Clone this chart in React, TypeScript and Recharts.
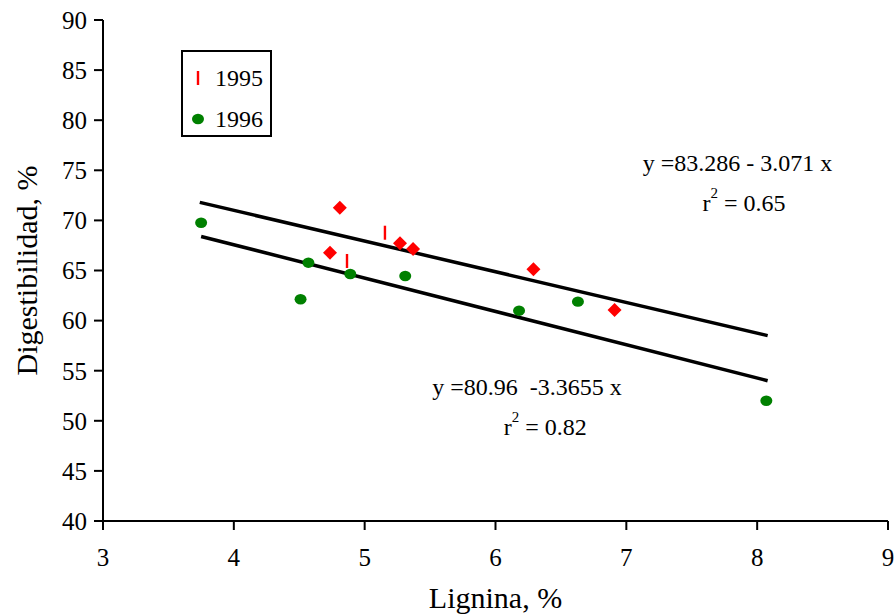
import React from 'react';
import {
  ComposedChart,
  Scatter,
  Line,
  XAxis,
  YAxis,
  ReferenceDot,
} from 'recharts';

// 1995 data (dash markers, shown in legend)
const data1995Dash = [
  { x: 4.865, y: 65.95 },
  { x: 5.155, y: 68.77 },
];
// 1995 data (diamond markers)
const data1995Diamond = [
  { x: 4.81, y: 71.27 },
  { x: 4.735, y: 66.78 },
  { x: 5.27, y: 67.71 },
  { x: 5.37, y: 67.15 },
  { x: 6.29, y: 65.12 },
  { x: 6.91, y: 61.06 },
];
// 1996 data
const data1996 = [
  { x: 3.75, y: 69.77 },
  { x: 4.57, y: 65.78 },
  { x: 4.51, y: 62.13 },
  { x: 4.89, y: 64.65 },
  { x: 5.31, y: 64.45 },
  { x: 6.18, y: 60.99 },
  { x: 6.63, y: 61.89 },
  { x: 8.07, y: 52.0 },
];
// Trend lines (endpoints)
const trend1995 = [
  { x: 3.74, y: 71.8 },
  { x: 8.08, y: 58.5 },
];
const trend1996 = [
  { x: 3.75, y: 68.4 },
  { x: 8.08, y: 54.0 },
];

const xTicks = [3, 4, 5, 6, 7, 8, 9];
const yTicks = [40, 45, 50, 55, 60, 65, 70, 75, 80, 85, 90];

const legendItems = ['1995', '1996'];

const FONT = '"Liberation Serif", "Times New Roman", serif';

const DashShape = (props: any) => {
  const { cx, cy } = props;
  return <rect x={cx - 1.2} y={cy - 7} width={2.4} height={14} fill="#ff0000" />;
};

const DiamondShape = (props: any) => {
  const { cx, cy } = props;
  const r = 7;
  return (
    <polygon
      points={`${cx},${cy - r} ${cx + r},${cy} ${cx},${cy + r} ${cx - r},${cy}`}
      fill="#ff0000"
    />
  );
};

const CircleShape = (props: any) => {
  const { cx, cy } = props;
  return <ellipse cx={cx} cy={cy} rx={6} ry={5.2} fill="#008000" />;
};

const makeLabel = (main: string, sup: boolean, rest: string) => (props: any) => {
  const vb = props.viewBox || {};
  const x = vb.cx !== undefined ? vb.cx : vb.x + (vb.width || 0) / 2;
  const y = vb.cy !== undefined ? vb.cy : vb.y + (vb.height || 0) / 2;
  return (
    <text
      x={x}
      y={y}
      textAnchor="middle"
      dominantBaseline="central"
      fontFamily={FONT}
      fontSize={24}
      fill="#000"
      style={{ whiteSpace: 'pre' }}
    >
      {main}
      {sup ? (
        <>
          <tspan fontSize={15} dy={-10}>2</tspan>
          <tspan dy={10}>{rest}</tspan>
        </>
      ) : null}
    </text>
  );
};

const LegendBox = () => (
  <div
    style={{
      position: 'absolute',
      left: 181,
      top: 50,
      width: 87,
      height: 83,
      border: '2px solid #000',
      background: '#fff',
      fontFamily: FONT,
      fontSize: 24,
      color: '#000',
      boxSizing: 'content-box',
    }}
  >
    {legendItems.map((name, i) => (
      <div
        key={name}
        style={{
          position: 'absolute',
          left: 0,
          top: i === 0 ? 12 : 53,
          height: 28,
          display: 'flex',
          alignItems: 'center',
        }}
      >
        <svg width={32} height={20} style={{ display: 'block' }}>
          {i === 0 ? (
            <rect x={13.8} y={3} width={2.4} height={14} fill="#ff0000" />
          ) : (
            <ellipse cx={15} cy={10} rx={6} ry={5.2} fill="#008000" />
          )}
        </svg>
        <span style={{ lineHeight: '28px' }}>{name}</span>
      </div>
    ))}
  </div>
);

export default function App() {
  return (
    <div style={{ position: 'absolute', left: 0, top: 0, width: 896, height: 616, background: '#fff' }}>
      <ComposedChart
        width={896}
        height={616}
        margin={{ top: 20, right: 8, bottom: 0, left: 0 }}
      >
        <XAxis
          type="number"
          dataKey="x"
          domain={[3, 9]}
          ticks={xTicks}
          allowDataOverflow
          height={95}
          axisLine={{ stroke: '#000', strokeWidth: 2 }}
          tickLine={{ stroke: '#000', strokeWidth: 2 }}
          tickSize={9}
          tickMargin={18}
          tick={{ fill: '#000', fontSize: 25, fontFamily: FONT }}
          label={{
            value: 'Lignina, %',
            position: 'insideBottom',
            offset: 8,
            fill: '#000',
            fontSize: 30,
            fontFamily: FONT,
          }}
        />
        <YAxis
          type="number"
          dataKey="y"
          domain={[40, 90]}
          ticks={yTicks}
          allowDataOverflow
          width={103}
          axisLine={{ stroke: '#000', strokeWidth: 2 }}
          tickLine={{ stroke: '#000', strokeWidth: 2 }}
          tickSize={9}
          tickMargin={7}
          tick={{ fill: '#000', fontSize: 25, fontFamily: FONT }}
          label={{
            value: 'Digestibilidad, %',
            angle: -90,
            position: 'insideLeft',
            offset: 26,
            fill: '#000',
            fontSize: 30,
            fontFamily: FONT,
            style: { textAnchor: 'middle' },
          }}
        />
        <Line
          data={trend1995}
          dataKey="y"
          type="linear"
          stroke="#000"
          strokeWidth={3.5}
          dot={false}
          activeDot={false}
          isAnimationActive={false}
          legendType="none"
        />
        <Line
          data={trend1996}
          dataKey="y"
          type="linear"
          stroke="#000"
          strokeWidth={3.5}
          dot={false}
          activeDot={false}
          isAnimationActive={false}
          legendType="none"
        />
        <Scatter name="1995" data={data1995Dash} dataKey="y" shape={<DashShape />} isAnimationActive={false} />
        <Scatter name="1995b" data={data1995Diamond} dataKey="y" shape={<DiamondShape />} isAnimationActive={false} legendType="none" />
        <Scatter name="1996" data={data1996} dataKey="y" shape={<CircleShape />} isAnimationActive={false} />
        <ReferenceDot x={7.85} y={75.7} r={0} fill="none" stroke="none" label={makeLabel('y =83.286 - 3.071 x', false, '')} />
        <ReferenceDot x={7.9} y={71.7} r={0} fill="none" stroke="none" label={makeLabel('r', true, ' = 0.65')} />
        <ReferenceDot x={6.24} y={53.4} r={0} fill="none" stroke="none" label={makeLabel('y =80.96  -3.3655 x', false, '')} />
        <ReferenceDot x={6.38} y={49.4} r={0} fill="none" stroke="none" label={makeLabel('r', true, ' = 0.82')} />
      </ComposedChart>
      <LegendBox />
    </div>
  );
}
